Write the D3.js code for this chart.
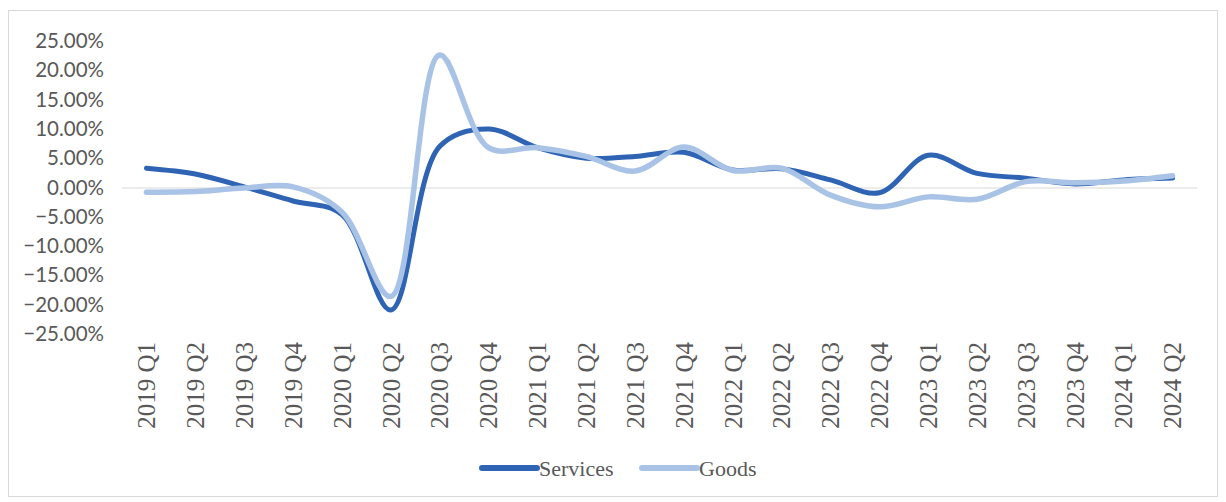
<!DOCTYPE html>
<html>
<head>
<meta charset="utf-8">
<script src="https://cdn.jsdelivr.net/npm/d3@7"></script>
<style>
  html, body { margin: 0; padding: 0; background: #fff; }
  svg { display: block; }
</style>
</head>
<body>
<svg id="chart" width="1226" height="502"></svg>
<script>
// Quarterly growth rates, services vs goods
const quarters = [
  "2019 Q1","2019 Q2","2019 Q3","2019 Q4",
  "2020 Q1","2020 Q2","2020 Q3","2020 Q4",
  "2021 Q1","2021 Q2","2021 Q3","2021 Q4",
  "2022 Q1","2022 Q2","2022 Q3","2022 Q4",
  "2023 Q1","2023 Q2","2023 Q3","2023 Q4",
  "2024 Q1","2024 Q2"
];
const services = [
  3.3, 2.3, 0.1, -2.3,
  -4.6, -20.9, 7.0, 10.0,
  6.8, 5.0, 5.3, 6.0,
  3.0, 3.2, 1.3, -0.9,
  5.5, 2.4, 1.6, 0.6,
  1.3, 1.6
];
const goods = [
  -0.8, -0.7, -0.1, 0.1,
  -4.2, -18.6, 22.6, 6.8,
  6.8, 5.3, 2.8, 6.9,
  2.9, 3.3, -1.3, -3.3,
  -1.6, -2.0, 1.0, 0.8,
  1.1, 2.0
];
const yTicks = [25, 20, 15, 10, 5, 0, -5, -10, -15, -20, -25];

const svg = d3.select("#chart");

// outer frame
svg.append("rect")
  .attr("x", 8.5).attr("y", 10.5)
  .attr("width", 1209).attr("height", 486)
  .attr("fill", "#fff").attr("stroke", "#d9d9d9").attr("stroke-width", 1);

const x = d3.scaleBand().domain(quarters).range([122, 1197]);
const y = d3.scaleLinear().domain([-25, 25]).range([334, 41]);

// y-axis labels
const yAxis = d3.axisLeft(y).tickValues(yTicks)
  .tickFormat(d => d3.format(".2f")(d) + "%").tickSize(0).tickPadding(0);
const gy = svg.append("g").attr("transform", "translate(104,0)").call(yAxis);
gy.select(".domain").remove();
gy.selectAll("text")
  .attr("fill", "#595959")
  .style("font-family", "Lato, 'Open Sans', sans-serif")
  .style("font-size", "20.5px");

// zero line
svg.append("line")
  .attr("x1", 122).attr("x2", 1197)
  .attr("y1", y(0) + 0.5).attr("y2", y(0) + 0.5)
  .attr("stroke", "#d9d9d9").attr("stroke-width", 1);

// category labels, rotated
const xAxis = d3.axisBottom(x).tickSize(0).tickPadding(0);
const gx = svg.append("g").attr("transform", "translate(0,340)").call(xAxis);
gx.select(".domain").remove();
gx.selectAll("text")
  .attr("fill", "#595959")
  .attr("transform", "rotate(-90)")
  .attr("text-anchor", "end")
  .attr("x", -2).attr("y", 0).attr("dy", "0.35em")
  .style("font-family", "'Liberation Serif', 'Times New Roman', serif")
  .style("font-size", "25px");

const cx = d => x(d) + x.bandwidth() / 2;
const line = values => d3.line()
  .x((d, i) => cx(quarters[i]))
  .y(d => y(d))
  .curve(d3.curveCatmullRom.alpha(0.5))(values);

const seriesList = [
  { name: "Services", values: services, color: "#2F64B4", width: 5 },
  { name: "Goods", values: goods, color: "#A9C3E6", width: 5.5 }
];

seriesList.forEach(s => {
  svg.append("path")
    .attr("d", line(s.values))
    .attr("fill", "none")
    .attr("stroke", s.color)
    .attr("stroke-width", s.width)
    .attr("stroke-linecap", "round")
    .attr("stroke-linejoin", "round");
});

// legend
const legend = svg.append("g").attr("transform", "translate(0,468)");
const legendPos = [480, 640];
seriesList.forEach((s, i) => {
  const g = legend.append("g").attr("transform", `translate(${legendPos[i]},0)`);
  g.append("line")
    .attr("x1", 2).attr("x2", 57).attr("y1", 0).attr("y2", 0)
    .attr("stroke", s.color).attr("stroke-width", 6)
    .attr("stroke-linecap", "round");
  g.append("text")
    .attr("x", 59).attr("y", 0).attr("dy", "0.35em")
    .attr("fill", "#595959")
    .style("font-family", "'Liberation Serif', 'Times New Roman', serif")
    .style("font-size", "22px")
    .text(s.name);
});
</script>
</body>
</html>
